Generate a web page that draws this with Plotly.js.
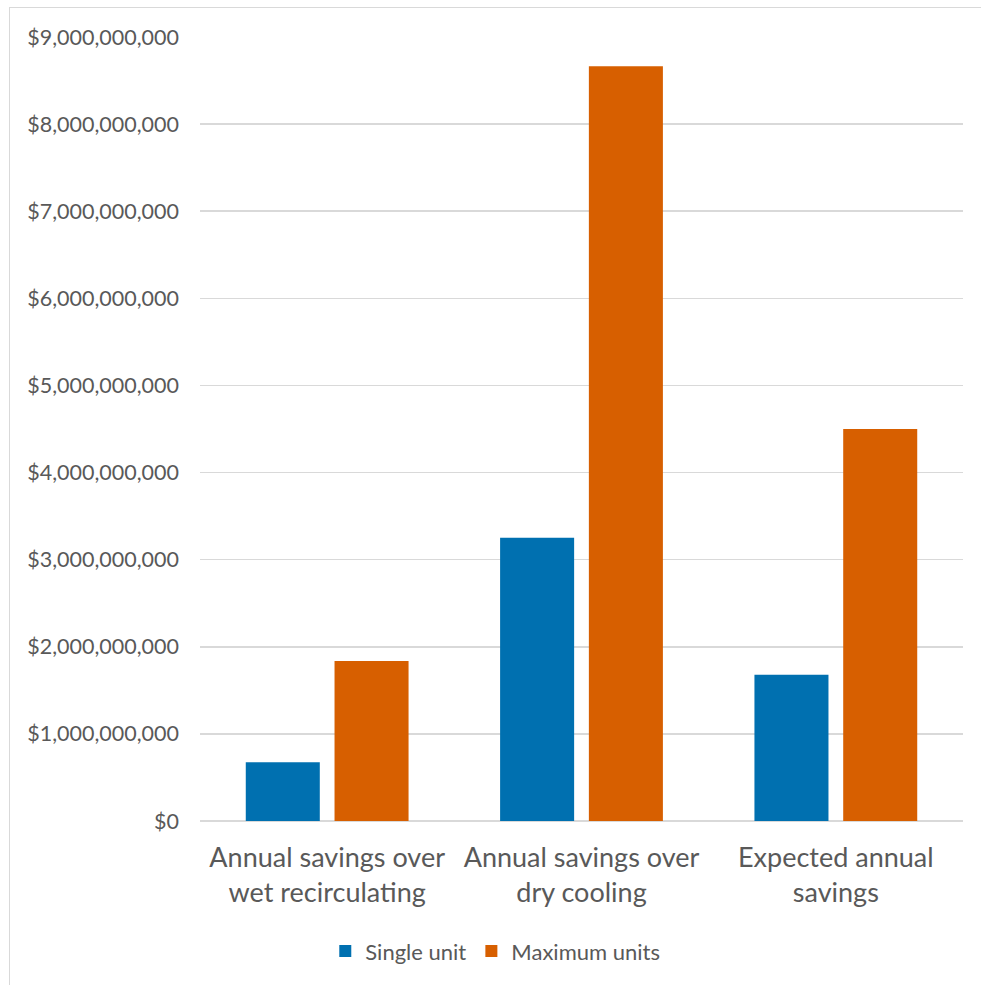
<!DOCTYPE html>
<html>
<head>
<meta charset="utf-8">
<script src="https://cdn.plot.ly/plotly-3.0.1.min.js"></script>
<style>
html,body{margin:0;padding:0;background:#fff;}
#wrap{position:relative;width:981px;height:985px;overflow:hidden;}
#chart{width:981px;height:985px;}
#frame{position:absolute;left:9px;top:7px;width:990px;height:990px;border-left:1.5px solid #d9d9d9;border-top:1.5px solid #d9d9d9;box-sizing:border-box;pointer-events:none;}
</style>
</head>
<body>
<div id="wrap"><div id="chart"></div><div id="frame"></div></div>
<script>
var categories = ["Annual savings over<br>wet recirculating", "Annual savings over<br>dry cooling", "Expected annual<br>savings"];
var singleUnit = [675000000, 3253000000, 1680000000];
var maximumUnits = [1837000000, 8665000000, 4500000000];
var seriesNames = ["Single unit", "Maximum units"];

var font = "Lato, 'Open Sans', sans-serif";
var traces = [
  {type:'bar', name:seriesNames[0], x:categories, y:singleUnit, marker:{color:'#0070b0'}, hoverinfo:'y'},
  {type:'bar', name:seriesNames[1], x:categories, y:maximumUnits, marker:{color:'#d75f00'}, hoverinfo:'y'}
];
var layout = {
  width:981, height:985,
  margin:{l:200, r:18, t:37, b:164},
  paper_bgcolor:'#ffffff', plot_bgcolor:'#ffffff',
  barmode:'group', bargap:0.302, bargroupgap:0.166,
  font:{family:font, color:'#595959', size:21.5},
  xaxis:{type:'category', showgrid:false, showline:false, ticks:'', ticklabelstandoff:18, tickfont:{size:27, color:'#595959'}, automargin:false},
  yaxis:{range:[0, 9000000000], dtick:1000000000, tickprefix:'$', tickformat:',.0f', showgrid:true, gridcolor:'#d9d9d9', gridwidth:1.5,
         zeroline:true, zerolinecolor:'#d9d9d9', zerolinewidth:1.5, showline:false, ticks:'', ticklen:0, ticklabelstandoff:20, tickfont:{size:21.5, color:'#595959'}, automargin:false},
  showlegend:true,
  legend:{orientation:'h', x:0.387, xanchor:'center', y:-0.166, yanchor:'middle', font:{size:22, color:'#595959'}, itemwidth:30, traceorder:'normal'}
};
Plotly.newPlot('chart', traces, layout, {displayModeBar:false, staticPlot:true});
</script>
</body>
</html>
